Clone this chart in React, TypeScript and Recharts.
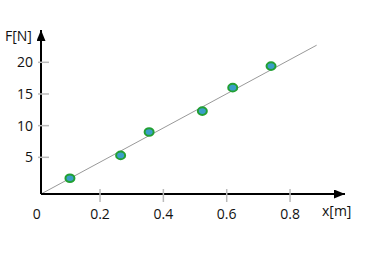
import React from 'react';
import { ComposedChart, Scatter, Line, XAxis, YAxis } from 'recharts';

const xTicks = [0, 0.2, 0.4, 0.6, 0.8];
const yTicks = [5, 10, 15, 20];
const measX = [0.105, 0.265, 0.355, 0.523, 0.619, 0.74];
const measF = [1.7, 5.3, 9.0, 12.3, 16.0, 19.4];
const fitX = [0.0136, 0.884];
const fitF = [-0.79, 22.7];

const points = measX.map((x, i) => ({ x, y: measF[i] }));
const fit = fitX.map((x, i) => ({ x, y: fitF[i] }));

const FONT = '"Open Sans", sans-serif';

const XTick = (props: any) => {
  const { x, y, payload } = props;
  const v = payload.value;
  return (
    <g>
      {v !== 0 && <line x1={x} x2={x} y1={y - 5} y2={y + 8} stroke="#bbb" strokeWidth={1.5} />}
      <text x={x} y={y + 25} textAnchor="middle" fontFamily={FONT} fontSize={14} fill="#111">
        {v}
      </text>
    </g>
  );
};

const YTick = (props: any) => {
  const { x, y, payload } = props;
  return (
    <g>
      <line x1={x - 3} x2={x + 8} y1={y} y2={y} stroke="#bbb" strokeWidth={1.5} />
      <text x={x - 8} y={y + 5} textAnchor="end" fontFamily={FONT} fontSize={14} fill="#111">
        {payload.value}
      </text>
    </g>
  );
};

const Dot = (props: any) => {
  const { cx, cy } = props;
  return <ellipse cx={cx} cy={cy} rx={4.5} ry={3.8} fill="#3a9ec8" stroke="#22a033" strokeWidth={2} />;
};

export default function App() {
  return (
    <div style={{ position: 'absolute', left: 0, top: 0, width: 366, height: 274, background: '#fff' }}>
      <svg width={0} height={0} style={{ position: 'absolute' }}>
        <defs>
          <marker id="arr" markerUnits="userSpaceOnUse" markerWidth={12} markerHeight={10} refX={11} refY={4.5} orient="auto-start-reverse">
            <path d="M0,0 L11,4.5 L0,9 Z" fill="#000" />
          </marker>
        </defs>
      </svg>
      <ComposedChart width={366} height={274} margin={{ top: 30, right: 21, bottom: 0, left: 0 }}>
        <XAxis
          type="number"
          dataKey="x"
          domain={[0.0136, 0.9735]}
          ticks={xTicks}
          interval={0}
          allowDataOverflow
          height={80}
          tickSize={0}
          tickMargin={0}
          tickLine={false}
          axisLine={{ stroke: '#000', strokeWidth: 2, markerEnd: 'url(#arr)' }}
          tick={<XTick />}
        />
        <YAxis
          type="number"
          dataKey="y"
          domain={[-0.79, 25.1]}
          ticks={yTicks}
          interval={0}
          allowDataOverflow
          width={41}
          tickSize={0}
          tickMargin={0}
          tickLine={false}
          axisLine={{ stroke: '#000', strokeWidth: 2, markerStart: 'url(#arr)' }}
          tick={<YTick />}
        />
        <Line data={fit} dataKey="y" stroke="#999" strokeWidth={1} dot={false} isAnimationActive={false} />
        <Scatter data={points} dataKey="y" shape={<Dot />} isAnimationActive={false} />
        <text x={5} y={41} fontFamily={FONT} fontSize={14} fill="#111">F[N]</text>
        <text x={322} y={216} fontFamily={FONT} fontSize={14} fill="#111">x[m]</text>
      </ComposedChart>
    </div>
  );
}
